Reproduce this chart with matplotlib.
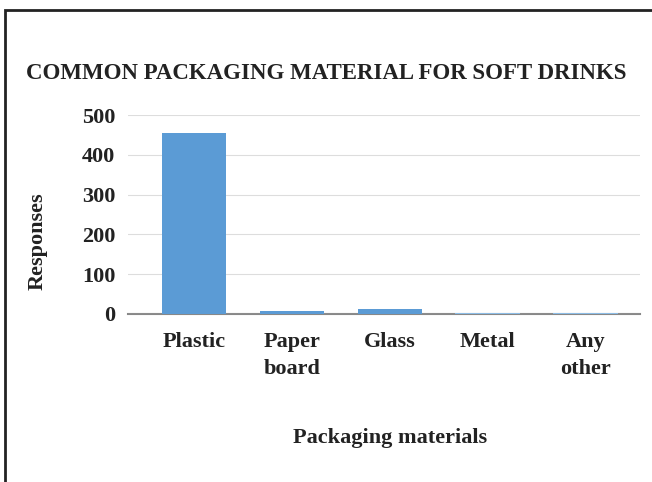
import matplotlib.pyplot as plt
from matplotlib.patches import Rectangle

categories = ['Plastic', 'Paper\nboard', 'Glass', 'Metal', 'Any\nother']
responses = [455, 7, 12, 3, 3]
yticks = [0, 100, 200, 300, 400, 500]

plt.rcParams['font.family'] = 'Liberation Serif'
plt.rcParams['font.weight'] = 'bold'

fig = plt.figure(figsize=(6.52, 4.82), dpi=100)
ax = fig.add_axes([0.196, 0.349, 0.786, 0.412])

x = list(range(len(categories)))
colors = ['#5B9BD5', '#5B9BD5', '#5B9BD5', '#8DBDE6', '#8DBDE6']
ax.bar(x, responses, width=0.655, color=colors, zorder=3)
ax.set_xlim(-0.675, 4.56)
ax.set_ylim(0, 500)
ax.set_yticks(yticks)
ax.set_xticks(x)
ax.set_xticklabels(categories, fontsize=16, fontweight='bold', color='#222222', linespacing=1.5)
ax.tick_params(axis='y', labelsize=16, labelcolor='#222222', length=0, pad=9)
ax.tick_params(axis='x', length=0, pad=13)
for lab in ax.get_yticklabels():
    lab.set_fontweight('bold')
ax.grid(axis='y', color='#dddddd', linewidth=0.8, zorder=0)
for s in ['top', 'right', 'left']:
    ax.spines[s].set_visible(False)
ax.spines['bottom'].set_color('#888888')
ax.spines['bottom'].set_linewidth(1.5)
ax.spines['bottom'].set_zorder(1)

ax.set_ylabel('Responses', fontsize=16, fontweight='bold', color='#222222')
ax.yaxis.set_label_coords(-0.157, 0.367)
ax.set_xlabel('Packaging materials', fontsize=16, fontweight='bold', color='#222222')
ax.xaxis.set_label_coords(0.512, -0.575)
fig.text(0.5, 0.848, 'COMMON PACKAGING MATERIAL FOR SOFT DRINKS', ha='center', va='center',
         fontsize=16.5, fontweight='bold', color='#222222')

# outer frame
fig.patches.append(Rectangle((0.008, -0.05), 1.1, 1.03, transform=fig.transFigure,
                             fill=False, edgecolor='#222222', linewidth=2))

fig.savefig('out.png', dpi=100)
